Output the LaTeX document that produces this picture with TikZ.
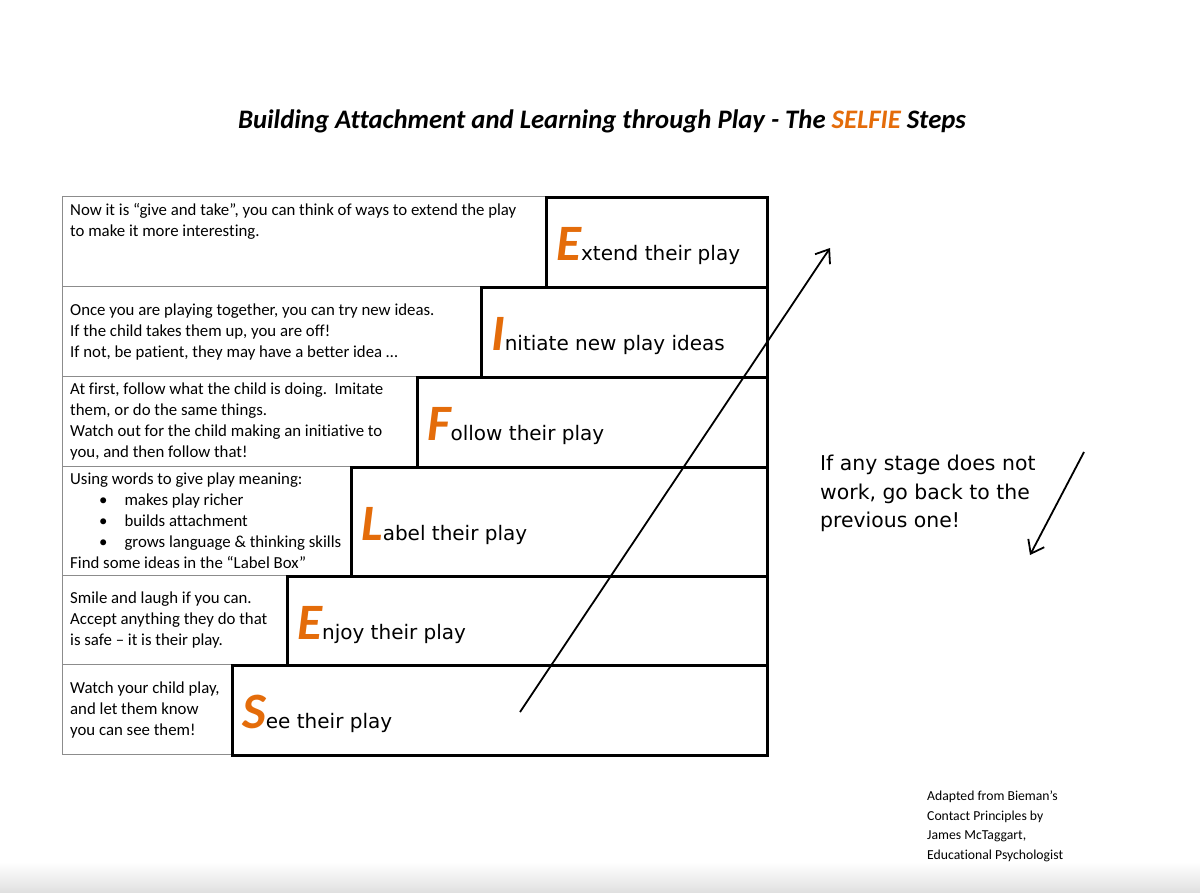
\documentclass[tikz,border=0pt]{standalone}
\usepackage{fontspec}
\setmainfont{Carlito}[Ligatures=CommonOff]
\newfontfamily\stepfont{DejaVu Sans}
\usepackage{tikz}
\usetikzlibrary{arrows.meta,positioning,calc}
\definecolor{selfie}{HTML}{E46C0A}
\definecolor{boxgray}{HTML}{8C8C8C}
\newcommand{\biginit}[1]{{\rmfamily\fontsize{51}{51}\selectfont\bfseries\itshape\color{selfie}#1}}
\tikzset{
  descbox/.style={draw=boxgray, line width=1.2pt, anchor=north west, inner sep=0pt},
  stepbox/.style={draw=black, line width=3pt, anchor=north west, inner sep=0pt},
  desc/.style={font=\fontsize{16.8}{21}\selectfont, align=left, inner sep=0pt},
  steplbl/.style={font=\stepfont\fontsize{20}{24}\selectfont, anchor=base west, inner sep=0pt},
  note/.style={font=\stepfont\fontsize{20.4}{28.5}\selectfont, align=left, inner sep=0pt},
  ar/.style={-{Straight Barb[length=12pt,width=18pt]}, line width=1.8pt},
}

\begin{document}
\begin{tikzpicture}[x=1pt,y=-1pt]
    \useasboundingbox[fill=white] (0,0) rectangle (1200,892);
    \shade[top color=white, bottom color=black!12] (0,862) rectangle (1200,892);

    % titulo
    \node[font=\fontsize{26.7}{30}\selectfont\bfseries\itshape, anchor=base] (title) at (602,128) {Building Attachment and Learning through Play - The \textcolor{selfie}{SELFIE} Steps};

    % escalones
    \foreach \nm/\y/\h/\x/\L/\rest in {extend/196/90/545/E/xtend their play, initiate/286/90/480/I/nitiate new play ideas, follow/376/90/416/F/ollow their play, label/466/109/350/L/abel their play, enjoy/575/89/286/E/njoy their play, see/664/90/231/S/ee their play}{
      \node[descbox, minimum width={\x-62}, minimum height=\h] (d\nm) at (62,\y) {};
      \node[stepbox, minimum width={766-\x}, minimum height=\h] (s\nm) at (\x,\y) {};
      \node[steplbl] (t\nm) at ($(s\nm.west)+(11,18)$) {\biginit{\L}\rest};
    }

    % textos
    \node[desc, anchor=north west] (nextend) at ($(dextend.north west)+(8,7)$) {Now it is “give and take”, you can think of ways to extend the play\\to make it more interesting.};
    \node[desc, anchor=west] (ninitiate) at ($(dinitiate.west)+(8,0)$) {Once you are playing together, you can try new ideas.\\If the child takes them up, you are off!\\If not, be patient, they may have a better idea …};
    \node[desc, anchor=west] (nfollow) at ($(dfollow.west)+(8,0)$) {At first, follow what the child is doing.\ \ Imitate\\them, or do the same things.\\Watch out for the child making an initiative to\\you, and then follow that!};
    \node[desc, anchor=west] (nlabel) at ($(dlabel.west)+(8,0)$) {Using words to give play meaning:\\\hspace*{29pt}\textbullet\hspace*{17pt}makes play richer\\\hspace*{29pt}\textbullet\hspace*{17pt}builds attachment\\\hspace*{29pt}\textbullet\hspace*{17pt}grows language \& thinking skills\\Find some ideas in the “Label Box”};
    \node[desc, anchor=west] (nenjoy) at ($(denjoy.west)+(8,0)$) {Smile and laugh if you can.\\Accept anything they do that\\is safe – it is their play.};
    \node[desc, anchor=west] (nsee) at ($(dsee.west)+(8,0)$) {Watch your child play,\\and let them know\\you can see them!};

    % flechas
    \coordinate (upfrom) at (520,712);
    \coordinate (upto) at (830,248);
    \draw[ar] (upfrom) -- (upto);
    \node[note, anchor=north west] (back) at (820,455) {If any stage does not\\work, go back to the\\previous one!};
    \coordinate (downfrom) at (1084,452);
    \coordinate (downto) at (1030,555);
    \draw[ar] (downfrom) -- (downto);

    \node[font=\fontsize{13.7}{19.5}\selectfont, align=left, anchor=north west, inner sep=0pt] (credit) at (927,791) {Adapted from Bieman’s\\Contact Principles by\\James McTaggart,\\Educational Psychologist};
  \end{tikzpicture}
\end{document}
